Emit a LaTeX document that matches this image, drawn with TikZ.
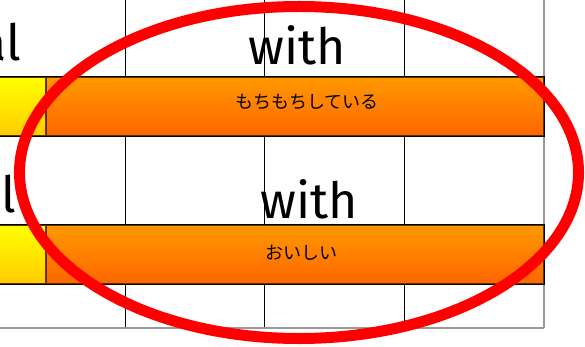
\documentclass[tikz,border=0pt]{standalone}
\usepackage{fontspec}
\setmainfont{Fira Sans}
\newfontfamily\jpfont{Noto Sans CJK JP}
\usetikzlibrary{shapes.geometric}
\definecolor{orT}{HTML}{FF9900}
\definecolor{orB}{HTML}{FF6600}
\definecolor{yeT}{HTML}{FFFF00}
\definecolor{yeB}{HTML}{FFCC00}
\definecolor{barline}{HTML}{5A3000}
\begin{document}
\begin{tikzpicture}[x=1pt,y=-1pt,
  gridline/.style={black,line width=0.9pt},
  edgeline/.style={gray!80,line width=1.2pt},
  orangebar/.style={draw=barline,line width=0.8pt,top color=orT,bottom color=orB,anchor=north west,inner sep=0pt,minimum height=58pt,minimum width=497pt},
  yellowbox/.style={draw=barline,line width=0.8pt,top color=yeT,bottom color=yeB,anchor=north west,inner sep=0pt,minimum height=58pt,minimum width=46pt},
  bandframe/.style={draw=black,line width=1pt,anchor=north west,inner sep=0pt,minimum height=60pt,minimum width=546pt},
  bigword/.style={font=\fontsize{50}{54}\selectfont,inner sep=0pt,anchor=base},
  jptext/.style={font=\jpfont\fontsize{18}{22}\selectfont,inner sep=0pt},
  ring/.style={draw=red,line width=11pt,ellipse,inner sep=0pt,minimum width=559pt,minimum height=332pt}]
\useasboundingbox (0,0) rectangle (585,347);
% grid lines
\foreach \x in {125,264,404} {
  \draw[gridline] (\x,0) -- (\x,328);
}
\draw[edgeline] (544,0) -- (544,328);
\draw[edgeline] (0,328) -- (544,328);
% band 1
\node[bandframe] (frame1) at (-2,76) {};
\node[yellowbox] (yel1) at (-1,77) {};
\node[orangebar] (bar1) at (45.5,77) {};
% band 2
\node[bandframe] (frame2) at (-2,224) {};
\node[yellowbox] (yel2) at (-1,225) {};
\node[orangebar] (bar2) at (45.5,225) {};
% texts
\node[bigword,anchor=base east] (al1) at (21,61) {al};
\node[bigword] (with1) at (297,65) {with};
\node[bigword,anchor=base east] (al2) at (16,212) {al};
\node[bigword] (with2) at (309.5,218) {with};
\node[jptext] (t1) at (307,102) {もちもちしている};
\node[jptext] (t2) at (301,253) {おいしい};
% red ellipse
\node[ring] (oval) at (299,172.5) {};
\end{tikzpicture}
\end{document}
